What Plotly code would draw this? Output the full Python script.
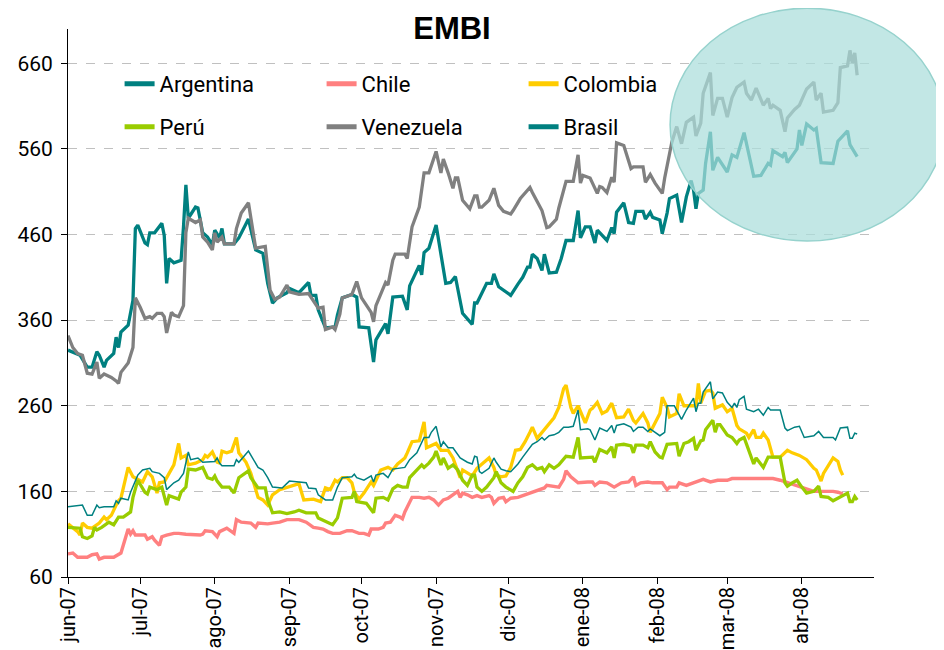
import datetime as dt
import plotly.graph_objects as go

START = dt.date(2007, 6, 1)  # day 0 of the series below

# (days since 1-jun-2007, spread in basis points)
argentina = [(0,325),(5,319),(8,305),(10,305),(12,323),(13,319),(15,305),(16,313),(19,321),(20,340),
(21,328),(22,346),(25,354),(27,383),(28,467),(29,471),(32,450),(33,448),(34,462),(36,462),
(39,473),(40,459),(41,403),(42,432),(44,427),(47,430),(48,469),(49,518),(50,479),(53,492),
(54,491),(56,462),(58,457),(60,448),(61,465),(63,456),(64,467),(65,449),(69,449),(71,456),
(75,478),(78,442),(81,438),(83,403),(85,380),(87,386),(91,392),(92,397),(96,392),(100,404),
(101,389),(103,389),(104,372),(107,351),(111,352),(112,366),(114,386),(118,390),(120,387),(121,352),
(125,351),(127,311),(128,337),(132,356),(133,344),(135,387),(139,388),(141,372),(142,400),(146,424),
(147,413),(148,439),(150,444),(153,471),(157,403),(159,404),(161,411),(164,368),(168,355),(169,380),
(170,380),(172,392),(174,403),(176,403),(177,414),(179,399),(181,395),(184,389),(187,402),(189,410),
(191,422),(192,422),(193,437),(195,432),(197,418),(198,437),(200,415),(203,416),(205,432),(207,453),
(210,453),(212,488),(213,456),(215,469),(217,469),(219,450),(220,465),(224,453),(226,468),(227,461),
(228,486),(231,497),(233,474),(235,473),(236,487),(239,487),(240,478),(242,486),(243,480),(246,477),
(247,461),(249,485),(250,502),(253,506),(255,474),(257,504),(259,523),(260,512),(261,490),(262,508),
(264,512),(265,543),(267,580),(268,535),(270,550),(274,533),(276,553),(278,550),(281,579),(285,528),
(288,529),(291,543),(292,541),(293,558),(297,551),(298,556),(299,544),(303,560),(304,582),(305,564),
(307,589),(310,582),(311,584),(313,544),(318,543),(320,569),(324,581),(325,565),(328,551)]

chile = [(0,87),(2,88),(4,83),(8,83),(10,86),(12,87),(13,81),(15,83),(19,83),(21,86),
(22,88),(25,116),(26,110),(27,114),(28,109),(32,109),(33,104),(35,107),(36,103),(38,97),
(39,107),(41,109),(44,111),(46,111),(49,110),(55,109),(56,110),(57,114),(60,113),(62,107),
(63,113),(66,117),(69,111),(70,127),(72,124),(76,123),(78,118),(79,123),(83,122),(85,123),
(88,124),(91,127),(96,127),(99,124),(102,118),(104,117),(106,116),(108,113),(110,111),(113,111),
(116,114),(118,114),(121,111),(123,111),(125,109),(126,116),(129,116),(131,118),(132,123),(134,124),
(136,132),(138,130),(139,128),(140,136),(141,142),(143,153),(146,153),(148,152),(150,153),(152,150),
(154,144),(156,150),(158,152),(160,156),(162,160),(163,153),(164,158),(166,156),(168,153),(170,155),
(172,153),(175,155),(176,153),(177,146),(179,152),(181,153),(182,148),(184,152),(187,153),(189,155),
(191,157),(193,159),(196,163),(198,164),(199,167),(202,166),(204,165),(206,174),(207,184),(209,177),
(212,170),(216,171),(218,171),(219,167),(221,171),(224,170),(227,165),(230,170),(233,171),(235,177),
(236,167),(238,170),(241,171),(243,170),(247,170),(249,162),(250,165),(253,165),(254,170),(257,167),
(260,170),(261,171),(264,174),(267,171),(270,173),(274,173),(276,175),(282,175),(288,175),(293,175),
(296,173),(299,170),(303,166),(305,164),(310,160),(314,160),(318,160),(320,159),(322,157)]

colombia = [(0,122),(2,118),(4,113),(5,109),(6,123),(8,118),(10,117),(13,123),(15,130),(16,127),
(18,132),(20,144),(21,149),(22,152),(25,188),(27,177),(29,174),(31,171),(33,183),(35,177),
(37,158),(38,170),(40,171),(42,181),(44,191),(46,216),(47,199),(49,202),(50,191),(53,193),
(56,197),(57,202),(58,200),(60,206),(62,194),(63,193),(64,207),(66,205),(68,207),(70,223),
(71,205),(74,194),(75,187),(76,181),(79,153),(81,150),(83,144),(85,156),(88,162),(91,165),
(94,167),(96,169),(98,150),(102,151),(105,148),(107,164),(109,162),(111,173),(112,171),(114,176),
(116,176),(118,170),(119,159),(121,151),(123,158),(126,171),(127,167),(130,185),(133,188),(135,185),
(137,192),(140,199),(141,205),(143,218),(146,219),(148,241),(149,211),(151,214),(153,216),(155,208),
(158,208),(160,199),(161,191),(163,176),(164,185),(168,178),(170,187),(172,192),(175,199),(177,188),
(178,179),(180,177),(182,178),(184,188),(186,208),(188,209),(190,218),(192,229),(193,235),(195,222),
(197,229),(199,237),(202,246),(204,258),(206,280),(207,284),(209,258),(210,251),(212,260),(215,240),
(217,255),(218,257),(220,264),(222,251),(224,254),(226,263),(228,246),(231,247),(233,256),(235,243),
(236,240),(239,251),(241,240),(242,229),(244,240),(246,251),(247,270),(249,258),(250,247),(253,251),
(254,274),(256,260),(258,260),(261,260),(262,286),(263,263),(265,277),(267,278),(268,275),(269,257),
(272,261),(274,253),(276,257),(278,237),(279,233),(282,228),(283,223),(285,232),(286,223),(288,223),
(289,228),(291,220),(293,200),(296,200),(299,208),(301,205),(304,202),(307,197),(310,187),(311,185),
(313,172),(314,181),(318,199),(320,195),(321,185),(322,179)]

peru = [(0,118),(5,117),(6,107),(8,105),(10,108),(11,118),(12,115),(14,118),(17,124),(19,121),
(21,130),(23,130),(26,136),(27,153),(29,173),(32,159),(33,157),(34,165),(37,162),(39,165),
(41,144),(42,155),(46,151),(47,159),(49,165),(50,186),(53,185),(56,188),(58,176),(60,174),
(61,178),(62,172),(64,165),(67,165),(69,158),(70,167),(71,176),(75,184),(76,176),(79,164),
(82,164),(83,150),(85,135),(88,136),(91,134),(94,136),(96,138),(99,135),(103,135),(104,129),
(108,124),(110,121),(112,129),(113,142),(114,152),(118,153),(119,160),(120,148),(124,146),(127,135),
(128,152),(131,153),(133,150),(135,163),(137,167),(139,165),(141,165),(142,176),(145,185),(147,191),
(148,188),(150,193),(152,200),(153,207),(155,191),(156,199),(158,187),(160,191),(162,185),(164,173),
(166,167),(168,179),(169,179),(170,165),(172,160),(174,165),(177,176),(178,183),(180,170),(182,165),
(185,160),(187,170),(189,177),(191,188),(193,191),(195,186),(197,188),(198,183),(200,191),(202,187),
(204,191),(207,201),(210,200),(212,223),(213,199),(216,200),(218,200),(219,194),(221,209),(224,205),
(226,212),(227,199),(228,214),(231,215),(234,213),(235,205),(236,214),(239,214),(241,211),(242,218),
(244,206),(246,200),(247,199),(249,215),(253,216),(254,201),(256,216),(258,218),(260,222),(261,208),
(263,219),(264,220),(265,232),(268,243),(269,229),(270,238),(271,238),(274,226),(276,223),(278,216),
(279,220),(281,223),(283,208),(285,192),(286,199),(289,188),(291,200),(296,200),(298,170),(299,166),
(301,170),(303,173),(305,165),(307,158),(310,160),(312,166),(313,154),(316,153),(318,149),(321,154),
(324,158),(325,148),(326,148),(327,154),(328,150)]

venezuela = [(0,342),(2,328),(4,321),(6,319),(8,298),(10,297),(12,311),(13,292),(15,297),(18,293),
(20,289),(21,286),(22,299),(25,310),(27,328),(28,386),(30,375),(32,362),(34,364),(35,362),
(37,368),(39,368),(40,364),(41,345),(43,369),(44,366),(46,364),(48,377),(49,462),(50,479),
(53,474),(55,477),(56,457),(58,451),(60,442),(61,462),(62,451),(64,457),(65,449),(69,449),
(70,467),(72,485),(75,497),(76,480),(78,444),(82,446),(84,395),(86,384),(88,387),(91,401),
(92,393),(96,390),(100,391),(104,374),(106,375),(107,349),(110,352),(111,349),(113,367),(114,386),
(118,390),(120,405),(122,386),(126,369),(127,358),(128,377),(132,404),(133,401),(135,430),(136,437),
(140,437),(141,432),(143,469),(146,492),(148,532),(150,532),(153,557),(155,532),(156,548),(158,532),
(160,514),(161,526),(162,526),(164,500),(167,490),(169,505),(170,505),(171,492),(172,492),(175,500),
(177,514),(179,494),(181,487),(184,484),(185,488),(188,502),(191,512),(192,515),(193,509),(197,488),
(199,468),(200,469),(203,478),(204,491),(207,522),(210,522),(212,553),(213,520),(214,529),(217,526),
(218,520),(220,508),(221,516),(222,515),(224,509),(226,527),(227,521),(228,567),(231,564),(234,537),
(235,539),(239,539),(240,521),(242,530),(244,520),(247,508),(248,526),(249,539),(251,568),(253,586),
(255,566),(257,591),(260,597),(261,575),(263,590),(264,625),(267,649),(268,599),(270,619),(272,619),
(274,597),(276,620),(278,632),(281,638),(282,625),(284,617),(286,631),(289,611),(291,619),(292,607),
(293,611),(296,605),(298,580),(299,596),(302,606),(304,611),(307,630),(310,638),(311,617),(313,625),
(314,603),(318,605),(320,614),(321,655),(324,657),(325,675),(326,660),(327,672),(328,646)]

brasil = [(0,142),(6,144),(8,132),(10,132),(12,144),(13,141),(15,142),(19,142),(20,149),(21,146),
(22,152),(25,150),(26,159),(29,179),(31,185),(34,187),(35,183),(38,181),(40,176),(41,162),
(44,170),(46,173),(48,181),(50,206),(51,197),(54,199),(56,194),(61,195),(62,199),(63,193),
(64,190),(69,190),(70,197),(71,194),(75,207),(79,188),(81,185),(83,176),(85,165),(88,164),
(89,164),(92,172),(96,171),(99,170),(100,164),(103,163),(104,156),(107,150),(110,150),(112,165),
(114,176),(118,177),(119,180),(120,176),(123,173),(126,178),(127,171),(128,179),(131,181),(133,176),
(135,186),(137,187),(140,188),(142,197),(145,205),(148,223),(150,223),(151,229),(153,236),(155,212),
(156,218),(158,211),(160,211),(163,199),(166,194),(168,192),(169,201),(170,200),(171,183),(172,181),
(175,187),(177,199),(178,194),(180,186),(182,184),(184,183),(187,192),(189,200),(191,208),(193,215),
(195,218),(197,223),(198,220),(200,225),(202,226),(204,229),(206,235),(208,235),(210,236),(212,255),
(213,232),(216,233),(217,232),(219,220),(221,234),(224,230),(226,237),(227,228),(228,237),(231,239),
(234,235),(235,230),(237,235),(239,235),(241,230),(242,233),(246,225),(248,229),(249,260),(252,260),
(255,244),(257,255),(260,269),(261,253),(262,263),(263,263),(264,276),(267,288),(268,268),(270,276),
(272,275),(274,264),(276,258),(277,263),(278,258),(279,267),(281,271),(282,256),(285,253),(287,256),
(289,249),(291,258),(292,255),(296,255),(298,234),(299,231),(302,235),(304,236),(306,223),(310,225),
(312,230),(314,223),(318,223),(319,220),(321,234),(324,235),(325,222),(326,222),(327,228),(328,227)]

month_ticks = ["2007-06-01", "2007-07-01", "2007-08-01", "2007-09-01", "2007-10-01", "2007-11-01",
               "2007-12-01", "2008-01-01", "2008-02-01", "2008-03-01", "2008-04-01"]
month_labels = ["jun-07", "jul-07", "ago-07", "sep-07", "oct-07", "nov-07",
                "dic-07", "ene-08", "feb-08", "mar-08", "abr-08"]
y_ticks = [60, 160, 260, 360, 460, 560, 660]

FONT = "Roboto, Liberation Sans, sans-serif"

def unzip(points):
    xs = [START + dt.timedelta(days=d) for d, _ in points]
    ys = [v for _, v in points]
    return xs, ys

series = [
    ("Argentina", argentina, "#008080", 3.3, "legend"),
    ("Chile", chile, "#FF8080", 3.4, "legend"),
    ("Colombia", colombia, "#FFCC00", 3.3, "legend"),
    ("Perú", peru, "#99CC00", 3.3, "legend2"),
    ("Venezuela", venezuela, "#808080", 3.3, "legend2"),
    ("Brasil", brasil, "#008080", 1.5, "legend2"),
]

fig = go.Figure()
for name, pts, color, width, leg in series:
    xs, ys = unzip(pts)
    fig.add_trace(go.Scatter(x=xs, y=ys, mode="lines", name=name,
                             line=dict(color=color, width=width), legend=leg))

legend_common = dict(orientation="h", xref="paper", yref="paper", xanchor="left",
                     yanchor="middle", x=0.064, bgcolor="rgba(0,0,0,0)",
                     font=dict(family=FONT, size=22, color="black"),
                     entrywidth=157, entrywidthmode="pixels", itemsizing="constant",
                     tracegroupgap=0)

fig.update_layout(
    width=944, height=650,
    margin=dict(l=60, r=78, t=21, b=81, pad=0, autoexpand=False),
    paper_bgcolor="white", plot_bgcolor="white",
    font=dict(family=FONT, size=21, color="black"),
    title=dict(text="<b>EMBI</b>", x=0.4764, xref="paper", xanchor="center",
               y=1 - 20 / 650, yref="container", yanchor="middle",
               font=dict(family="Liberation Sans, Arial, sans-serif", size=31, color="black")),
    legend=dict(legend_common, y=(569 - 76) / 548),
    legend2=dict(legend_common, y=(569 - 119) / 548),
    xaxis=dict(type="date", range=["2007-06-01", "2008-05-01"], automargin=False,
               tickvals=month_ticks, ticktext=month_labels, tickangle=-90,
               showgrid=False, showline=True, linecolor="black", linewidth=1,
               ticks="outside", ticklen=6, tickcolor="black", zeroline=False,
               ticklabelstandoff=-5, tickfont=dict(family=FONT, size=20)),
    yaxis=dict(range=[60, 700], tickvals=y_ticks, showgrid=True, gridcolor="#c0c0c0",
               griddash="dash", gridwidth=1, showline=True, linecolor="black", linewidth=1,
               ticks="outside", ticklen=6, tickcolor="black", zeroline=False, automargin=False,
               ticklabelstandoff=4, tickfont=dict(family=FONT, size=21)),
    showlegend=True,
    shapes=[
        dict(type="rect", xref="paper", yref="paper", x0=0.021, x1=0.772,
             y0=(569 - 132) / 548, y1=(569 - 42) / 548, fillcolor="white",
             line=dict(width=0), layer="below"),
        dict(type="circle", xref="paper", yref="paper", x0=0.747, x1=1.087,
             y0=0.613, y1=1.038, fillcolor="rgba(170,222,219,0.72)",
             line=dict(color="rgb(150,210,205)", width=1.5), layer="above"),
    ],
)

fig.write_html("out.html")
